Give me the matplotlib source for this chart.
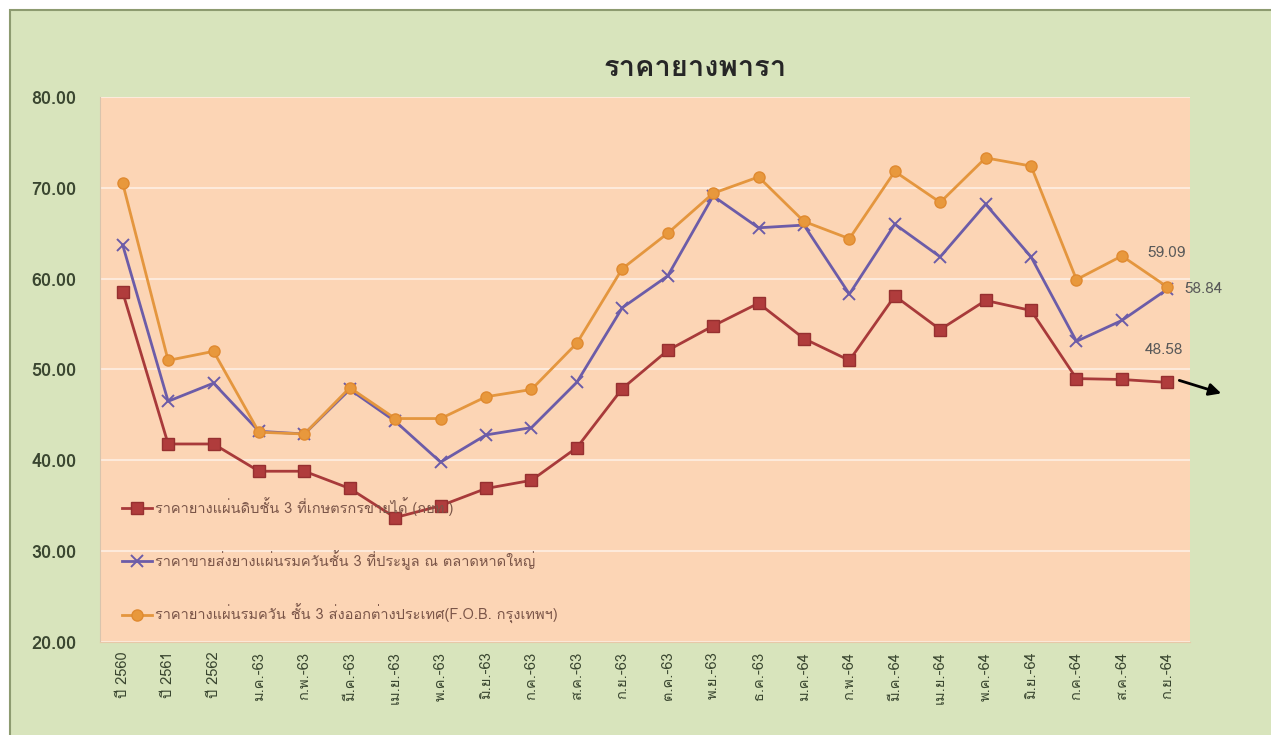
import numpy as np
import matplotlib
matplotlib.use("Agg")
from matplotlib import pyplot as plt
from matplotlib import font_manager
from matplotlib.patches import Rectangle
from matplotlib.transforms import offset_copy

# หา font ที่มีตัวอักษรไทย
def find_thai_font():
    try:
        from fontTools.ttLib import TTFont
    except Exception:
        return None
    for f in font_manager.fontManager.ttflist:
        try:
            tt = TTFont(f.fname, fontNumber=0, lazy=True)
            cmap = tt.getBestCmap()
            if cmap and 0x0E23 in cmap and 0x0E32 in cmap:
                return f.name
        except Exception:
            pass
    return None

thai = find_thai_font()
families = ([thai] if thai else []) + ['DejaVu Sans']
plt.rcParams['font.family'] = families

# ข้อมูล
labels = ['ปี 2560', 'ปี 2561', 'ปี 2562', 'ม.ค.-63', 'ก.พ.-63', 'มี.ค.-63',
          'เม.ย.-63', 'พ.ค.-63', 'มิ.ย.-63', 'ก.ค.-63', 'ส.ค.-63', 'ก.ย.-63',
          'ต.ค.-63', 'พ.ย.-63', 'ธ.ค.-63', 'ม.ค.-64', 'ก.พ.-64', 'มี.ค.-64',
          'เม.ย.-64', 'พ.ค.-64', 'มิ.ย.-64', 'ก.ค.-64', 'ส.ค.-64', 'ก.ย.-64']

raw_sheet = [58.5, 41.8, 41.8, 38.8, 38.8, 36.9, 33.7, 35.0, 36.9, 37.8, 41.4, 47.9,
             52.1, 54.8, 57.3, 53.4, 51.0, 58.1, 54.4, 57.6, 56.5, 49.0, 48.9, 48.58]
smoked_hatyai = [63.7, 46.5, 48.5, 43.2, 42.9, 47.8, 44.3, 39.8, 42.8, 43.6, 48.6, 56.8,
                 60.3, 69.1, 65.6, 65.9, 58.3, 66.0, 62.4, 68.2, 62.4, 53.1, 55.4, 58.84]
smoked_fob = [70.5, 51.0, 52.0, 43.1, 42.9, 48.0, 44.6, 44.6, 47.0, 47.8, 52.9, 61.1,
              65.0, 69.4, 71.2, 66.3, 64.4, 71.8, 68.4, 73.3, 72.4, 59.9, 62.5, 59.09]

series_names = ['ราคายางแผ่นดิบชั้น 3 ที่เกษตรกรขายได้ (กยท.)',
                'ราคาขายส่งยางแผ่นรมควันชั้น 3 ที่ประมูล ณ ตลาดหาดใหญ่',
                'ราคายางแผ่นรมควัน ชั้น 3 ส่งออกต่างประเทศ(F.O.B. กรุงเทพฯ)']
yticks = [20, 30, 40, 50, 60, 70, 80]

W, H = 1271, 735
fig = plt.figure(figsize=(W / 100, H / 100), dpi=100, facecolor='white')

# พื้นหลังเขียวของกราฟ
bg = Rectangle((10 / W, -0.01), 1.0, (H - 10) / H + 0.01, transform=fig.transFigure,
               facecolor='#d8e4bc', edgecolor='#8d9b70', linewidth=1.5, zorder=-10)
fig.patches.append(bg)

ax = fig.add_axes([100 / W, (H - 642) / H, 1090 / W, 545 / H])
ax.set_facecolor('#fcd5b5')

x = np.arange(len(labels))
l1, = ax.plot(x, raw_sheet, color='#a83a3a', lw=2.0, marker='s', markersize=9,
              markerfacecolor='#b03c3c', markeredgecolor='#963030', label=series_names[0], zorder=3)
l2, = ax.plot(x, smoked_hatyai, color='#6c5ca8', lw=2.0, marker='x', markersize=9,
              markeredgewidth=1.4, label=series_names[1], zorder=3)
l3, = ax.plot(x, smoked_fob, color='#e4963e', lw=2.0, marker='o', markersize=8,
              markerfacecolor='#e8983c', markeredgecolor='#e08a30', label=series_names[2], zorder=4)

ax.set_xlim(-0.5, len(labels) - 0.5)
ax.set_ylim(20, 80)
ax.set_yticks(yticks)
ax.set_yticklabels(['%.2f' % v for v in yticks], fontsize=13, fontweight='bold', color='#3a4630')
ax.set_xticks(x)
ax.set_xticklabels(labels, rotation=90, fontsize=10.5, color='#3a4630')
ax.tick_params(axis='both', length=0)
ax.tick_params(axis='y', pad=17)
ax.tick_params(axis='x', pad=7)
ax.grid(axis='y', color='#fdeadb', lw=1.5)
ax.set_axisbelow(True)
for s in ['top', 'right']:
    ax.spines[s].set_visible(False)
ax.spines['left'].set_color('#d8c4ad')
ax.spines['bottom'].set_color('#e8c8a8')

fig.text(695 / W, (H - 68) / H, 'ราคายางพารา', ha='center', va='center',
         fontsize=21, fontweight='bold', color='#262626')

leg = ax.legend(handles=[l1, l2, l3], loc='lower left', bbox_to_anchor=(0.02, 0.0325),
                frameon=False, fontsize=10.5, labelspacing=2.36, handlelength=2.1,
                handletextpad=0.2, borderpad=0, borderaxespad=0)
for t in leg.get_texts():
    t.set_color('#7a5548')

# ป้ายค่าจุดสุดท้าย
last = len(labels) - 1
ax.annotate('%.2f' % smoked_fob[-1], (last, smoked_fob[-1]), xytext=(-1, 34),
            textcoords='offset pixels', ha='center', va='center', fontsize=11, color='#595959')
ax.annotate('%.2f' % smoked_hatyai[-1], (last, smoked_hatyai[-1]), xytext=(17, 0),
            textcoords='offset pixels', ha='left', va='center', fontsize=11, color='#595959',
            annotation_clip=False)
ax.annotate('%.2f' % raw_sheet[-1], (last, raw_sheet[-1]), xytext=(-3, 32),
            textcoords='offset pixels', ha='center', va='center', fontsize=11, color='#595959')

# ลูกศร
ax.annotate('', xy=(last, raw_sheet[-1]), xytext=(last, raw_sheet[-1]),
            xycoords=offset_copy(ax.transData, fig=fig, x=54, y=-11, units='dots'),
            textcoords=offset_copy(ax.transData, fig=fig, x=12, y=2, units='dots'),
            arrowprops=dict(arrowstyle='-|>', color='black', lw=2, mutation_scale=18,
                            shrinkA=0, shrinkB=0),
            annotation_clip=False)

fig.savefig('out.png', dpi=100, facecolor='white')
